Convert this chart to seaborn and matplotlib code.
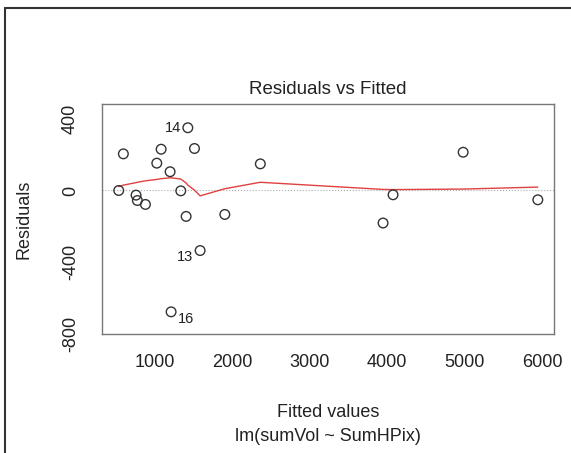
import matplotlib
matplotlib.use("Agg")
import matplotlib.pyplot as plt
import seaborn as sns
import pandas as pd
from matplotlib.lines import Line2D

# fitted values and residuals
fitted = [530, 590, 754, 771, 875, 1022, 1078, 1194, 1207, 1332,
          1401, 1423, 1509, 1582, 1901, 2360, 3946, 4075, 4981, 5946]
resid = [0, 205, -26, -56, -78, 153, 231, 105, -679, -2,
         -145, 351, 235, -336, -134, 149, -182, -24, 214, -52]
# red smoother, one value per fitted value
smooth = [22, 30, 44, 46, 54, 62, 66, 71, 71, 64,
          42, 30, 2, -30, 10, 46, 6, 5, 8, 19]
# labelled outliers
flagged_x = [1423, 1582, 1207]
flagged_y = [351, -336, -679]
flagged_lab = ['14', '13', '16']

xticks = [1000, 2000, 3000, 4000, 5000, 6000]
yticks = [-800, -600, -400, -200, 0, 200, 400]

df = pd.DataFrame({'fitted': fitted, 'resid': resid, 'smooth': smooth})

sns.set_style('white')
plt.rcParams['font.family'] = ['Liberation Sans', 'DejaVu Sans']

fig = plt.figure(figsize=(5.71, 4.53), dpi=100)
ax = fig.add_axes([102/571, 1-334/453, 452/571, 230/453])

ax.axhline(0, color='#aaaaaa', lw=0.8, ls=':', zorder=1)
sns.lineplot(data=df, x='fitted', y='smooth', color='#e0403f', lw=1.0,
             ax=ax, zorder=2)
sns.scatterplot(data=df, x='fitted', y='resid', marker='o', s=48,
                facecolors='none', edgecolor='#333333', linewidth=1.0,
                ax=ax, zorder=3)

offs = {'14': (-5, 0, 'right'), '13': (-5, -5, 'right'), '16': (5, -5, 'left')}
for x, y, lab in zip(flagged_x, flagged_y, flagged_lab):
    dx, dy, ha = offs[lab]
    ax.annotate(lab, (x, y), xytext=(dx, dy), textcoords='offset points',
                ha=ha, va='center', fontsize=10.5, color='#222222')

ax.set_xlim(314, 6155)
ax.set_ylim(-803, 484)
ax.set_xticks(xticks)
ax.set_xticklabels([str(v) for v in xticks])
ax.set_yticks(yticks)
ax.set_yticklabels([str(v) if v % 400 == 0 else '' for v in yticks],
                   rotation=90, va='center')
ax.tick_params(axis='both', direction='out', length=8.5, width=1.0,
               color='#555555', labelsize=13, labelcolor='#222222')
ax.tick_params(axis='x', pad=6)
ax.tick_params(axis='y', pad=8)
for sp in ax.spines.values():
    sp.set_color('#777777')
    sp.set_linewidth(1.0)

ax.set_xlabel('Fitted values', fontsize=13, color='#222222', labelpad=24)
ax.set_ylabel('Residuals', fontsize=13, color='#222222', labelpad=21)
ax.text(0.5, -0.445, 'lm(sumVol ~ SumHPix)', transform=ax.transAxes,
        ha='center', va='center', fontsize=13, color='#222222')
ax.set_title('Residuals vs Fitted', fontsize=13.5, color='#222222', pad=7)

# frame of the screenshot
fig.add_artist(Line2D([5/571, 1], [1-8/453, 1-8/453], color='#333333', lw=1.5))
fig.add_artist(Line2D([5/571, 5/571], [0, 1-8/453], color='#333333', lw=1.5))

fig.savefig('out.png', dpi=100)
